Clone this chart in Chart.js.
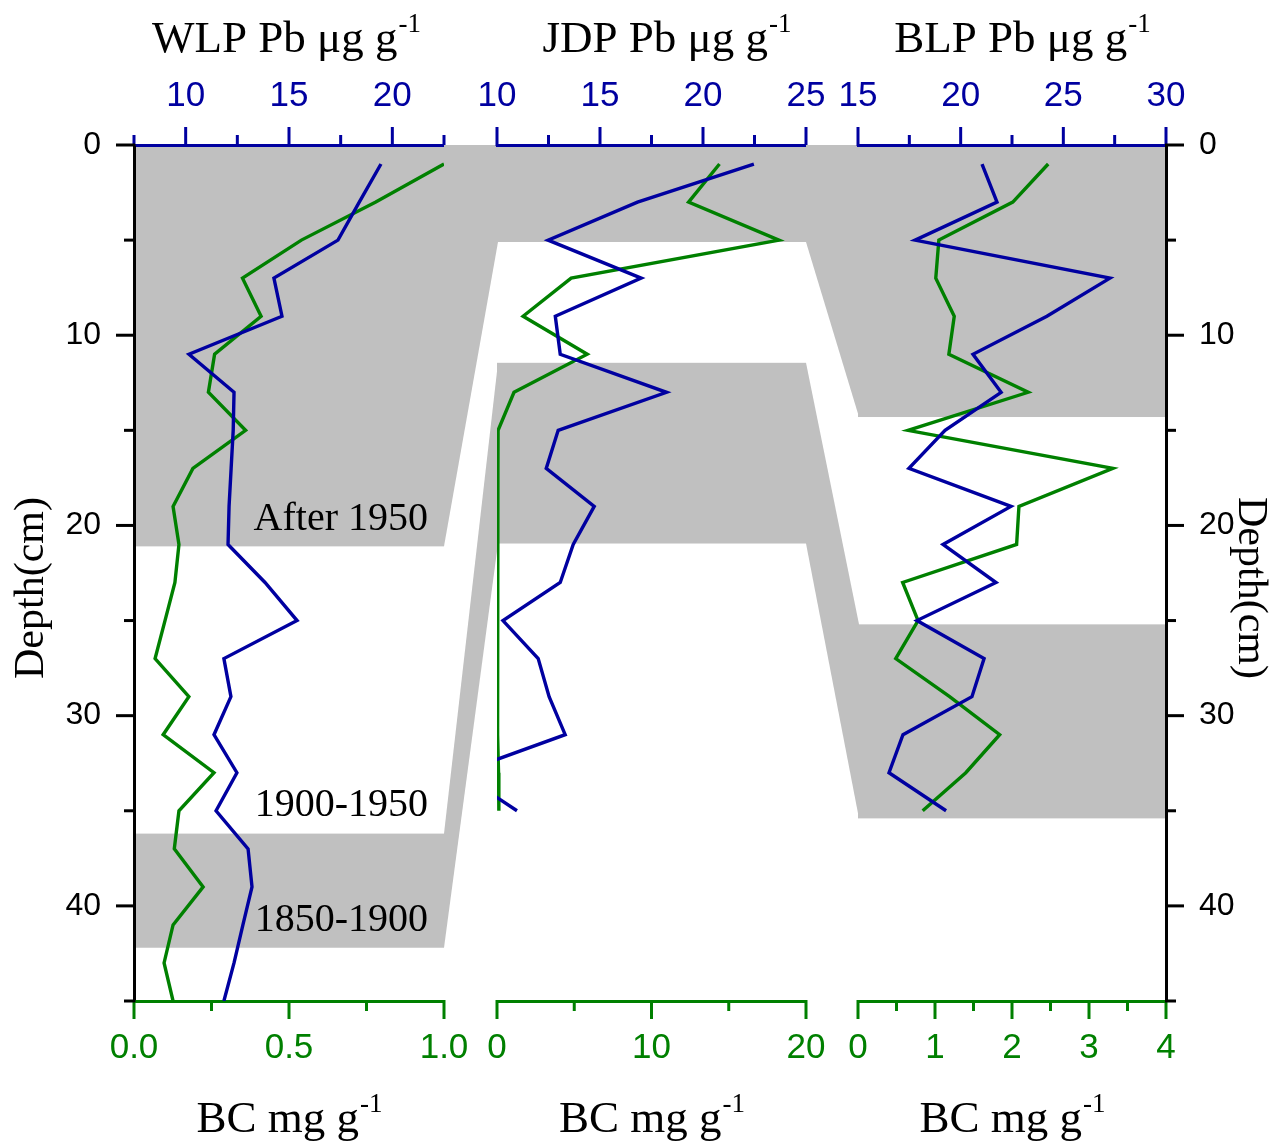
<!DOCTYPE html>
<html lang="en">
<head>
<meta charset="UTF-8">
<title>Pb and BC depth profiles</title>
<style>
  * { margin: 0; padding: 0; box-sizing: border-box; }
  html, body { width: 1275px; height: 1146px; background: #fff; overflow: hidden; }
  canvas { position: absolute; top: 0; }
</style>
<script src="https://cdn.jsdelivr.net/npm/chart.js"></script>
</head>
<body>
<canvas id="wlp" width="480" height="1146" style="left:0px"></canvas>
<canvas id="jdp" width="396" height="1146" style="left:444px"></canvas>
<canvas id="blp" width="469" height="1146" style="left:806px"></canvas>

<script>
const BLUE = '#0000A0';
const GREEN = '#008000';
const GREY = '#C0C0C0';
const SANS = "'Liberation Sans', Arial, sans-serif";
const SERIF = "'Liberation Serif', 'Times New Roman', serif";

// sample depths (cm)
const wlpDepth = [1, 3, 5, 7, 9, 11, 13, 15, 17, 19, 21, 23, 25, 27, 29, 31, 33, 35, 37, 39, 41, 43, 45];
const jdpDepth = [1, 3, 5, 7, 9, 11, 13, 15, 17, 19, 21, 23, 25, 27, 29, 31, 33, 35];
const blpDepth = [1, 3, 5, 7, 9, 11, 13, 15, 17, 19, 21, 23, 25, 27, 29, 31, 33, 35];

// Pb, ug/g
const wlpPb = [19.45, 18.4, 17.37, 14.27, 14.66, 10.16, 12.34, 12.3, 12.2, 12.1, 12.05, 13.84,
               15.39, 11.85, 12.19, 11.37, 12.48, 11.47, 13.02, 13.21, 12.77, 12.34, 11.85];
const jdpPb = [22.47, 16.82, 12.48, 17.0, 12.83, 13.07, 18.23, 12.97, 12.39, 14.72, 13.7, 13.07,
               10.29, 12.0, 12.53, 13.31, 8.2, 10.97];
const blpPb = [21.04, 21.77, 17.78, 27.27, 24.2, 20.6, 21.97, 19.24, 17.48, 22.45, 19.14, 21.72,
               17.87, 21.14, 20.55, 17.19, 16.51, 19.29];

// BC, mg/g
const wlpBC = [1.0, 0.78, 0.54, 0.35, 0.41, 0.26, 0.24, 0.36, 0.19, 0.126, 0.145, 0.132,
               0.10, 0.068, 0.177, 0.094, 0.258, 0.145, 0.13, 0.223, 0.126, 0.097, 0.126];
const jdpBC = [14.4, 12.4, 18.25, 4.8, 1.69, 5.84, 1.1, 0.07, 0.06, 0.05, 0.04, 0.04,
               0.04, 0.04, 0.03, 0.03, 0.1, 0.12];
const blpBC = [2.47, 2.01, 1.05, 1.01, 1.25, 1.18, 2.21, 0.65, 3.31, 2.09, 2.06, 0.58,
               0.78, 0.49, 1.19, 1.84, 1.40, 0.84];

// dated layers (depth ranges, cm): [after 1950, 1850-1900]
const wlpBands = [[0, 21.1], [36.2, 42.2]];
const jdpBands = [[0, 5.1], [11.45, 20.95]];
const blpBands = [[0, 14.3], [25.2, 35.4]];
const eraLabels = ['After 1950', '1900-1950', '1850-1900'];

function near(v, step) {
  return Math.abs(v / step - Math.round(v / step)) < 1e-6;
}

function drawSup(ctx, main, sup, cx, base, size) {
  const f1 = size + 'px ' + SERIF;
  const f2 = Math.round(size * 0.6) + 'px ' + SERIF;
  ctx.font = f1;
  const w1 = ctx.measureText(main).width;
  ctx.font = f2;
  const w2 = ctx.measureText(sup).width;
  const x = cx - (w1 + w2) / 2;
  ctx.textAlign = 'left';
  ctx.textBaseline = 'alphabetic';
  ctx.fillStyle = '#000';
  ctx.font = f1;
  ctx.fillText(main, x, base);
  ctx.font = f2;
  ctx.fillText(sup, x + w1 + 1, base - size * 0.45);
}

const decor = {
  id: 'decor',
  beforeDraw(chart, args, o) {
    const { ctx, chartArea: a } = chart;
    const y = chart.scales.y;
    ctx.save();
    ctx.fillStyle = GREY;
    o.bands.forEach((b, i) => {
      const y0 = y.getPixelForValue(b[0]);
      const y1 = y.getPixelForValue(b[1]);
      ctx.fillRect(a.left, y0, a.right - a.left, y1 - y0);
      if (o.prevBands) {
        const p = o.prevBands[i];
        ctx.beginPath();
        ctx.moveTo(o.linkFrom, y.getPixelForValue(p[0]));
        ctx.lineTo(a.left + 1, y0);
        ctx.lineTo(a.left + 1, y1);
        ctx.lineTo(o.linkFrom, y.getPixelForValue(p[1]));
        ctx.closePath();
        ctx.fill();
      }
    });
    ctx.restore();
  },
  afterDraw(chart, args, o) {
    const { ctx, chartArea: a } = chart;
    const y = chart.scales.y;
    ctx.save();

    // tick marks: long for labelled ticks, short otherwise
    Object.values(chart.scales).forEach(s => {
      if (!s.options.display) return;
      ctx.strokeStyle = s.options.border.color;
      ctx.lineWidth = 3;
      s.ticks.forEach(t => {
        const len = t.label !== '' ? 18 : 10;
        const p = s.getPixelForValue(t.value);
        ctx.beginPath();
        if (s.position === 'top') { ctx.moveTo(p, s.bottom + 1); ctx.lineTo(p, s.bottom - len); }
        else if (s.position === 'bottom') { ctx.moveTo(p, s.top - 1); ctx.lineTo(p, s.top + len); }
        else if (s.position === 'left') { ctx.moveTo(s.right + 1, p); ctx.lineTo(s.right - len, p); }
        else { ctx.moveTo(s.left - 1, p); ctx.lineTo(s.left + len, p); }
        ctx.stroke();
      });
    });

    const cx = (a.left + a.right) / 2;
    drawSup(ctx, o.title, '-1', cx + o.titleShift, a.top - 93, 45);
    drawSup(ctx, 'BC mg g', '-1', cx, a.bottom + 131, 45);

    if (o.eras) {
      ctx.font = '40px ' + SERIF;
      ctx.fillStyle = '#000';
      ctx.textAlign = 'right';
      ctx.textBaseline = 'alphabetic';
      o.eras.forEach((d, i) => ctx.fillText(eraLabels[i], a.right - 16, y.getPixelForValue(d)));
    }

    if (o.depthTitle) {
      ctx.font = '42px ' + SERIF;
      ctx.fillStyle = '#000';
      ctx.textAlign = 'center';
      ctx.textBaseline = 'middle';
      ctx.translate(o.depthTitle.x, (a.top + a.bottom) / 2 + 15);
      ctx.rotate(o.depthTitle.side === 'left' ? -Math.PI / 2 : Math.PI / 2);
      ctx.fillText('Depth(cm)', 0, 0);
    }
    ctx.restore();
  }
};

function xScale(pos, color, min, max, step, labelStep, fmt) {
  return {
    type: 'linear',
    position: pos,
    min: min,
    max: max,
    grid: { display: false, drawTicks: false },
    border: { display: true, color: color, width: 3 },
    ticks: {
      stepSize: step,
      autoSkip: false,
      maxRotation: 0,
      color: color,
      padding: pos === 'top' ? 28 : 26,
      font: { family: SANS, size: 35 },
      callback: v => near(v, labelStep) ? fmt(v) : ''
    },
    afterFit: s => {
      s.height = 145;
      s.paddingLeft = 0;
      s.paddingRight = 0;
    }
  };
}

function yScale(side) {
  return {
    type: 'linear',
    reverse: true,
    min: 0,
    max: 45,
    display: side !== null,
    position: side || 'left',
    grid: { display: false, drawTicks: false },
    border: { display: true, color: '#000', width: 3 },
    ticks: {
      stepSize: 5,
      autoSkip: false,
      color: '#000',
      padding: 33,
      font: { family: SANS, size: 32 },
      callback: v => near(v, 10) ? String(v) : ''
    },
    afterFit: s => {
      if (side === null) return;
      s.width = side === 'left' ? 134 : 109;
      s.paddingTop = 0;
      s.paddingBottom = 0;
    }
  };
}

function makePanel(id, depth, pb, bc, pbAxis, bcAxis, side, pad, decorOpts) {
  return new Chart(document.getElementById(id), {
    type: 'line',
    data: {
      datasets: [
        {
          label: 'Pb',
          data: pb.map((v, i) => ({ x: v, y: depth[i] })),
          xAxisID: 'xPb',
          yAxisID: 'y',
          borderColor: BLUE,
          borderWidth: 3.4,
          pointRadius: 0,
          tension: 0,
          fill: false
        },
        {
          label: 'BC',
          data: bc.map((v, i) => ({ x: v, y: depth[i] })),
          xAxisID: 'xBC',
          yAxisID: 'y',
          borderColor: GREEN,
          borderWidth: 3.4,
          pointRadius: 0,
          tension: 0,
          fill: false
        }
      ]
    },
    options: {
      indexAxis: 'y',
      responsive: false,
      animation: false,
      events: [],
      layout: { padding: pad },
      plugins: {
        legend: { display: false },
        tooltip: { enabled: false },
        decor: decorOpts
      },
      scales: {
        xPb: xScale('top', BLUE, pbAxis[0], pbAxis[1], 2.5, 5, v => String(v)),
        xBC: xScale('bottom', GREEN, bcAxis[0], bcAxis[1], bcAxis[2], bcAxis[3], bcAxis[4]),
        y: yScale(side)
      }
    },
    plugins: [decor]
  });
}

makePanel('wlp', wlpDepth, wlpPb, wlpBC, [7.5, 22.5], [0, 1, 0.25, 0.5, v => v.toFixed(1)], 'left',
  { left: 0, right: 36, top: 0, bottom: 0 },
  { bands: wlpBands, prevBands: null, title: 'WLP Pb \u03bcg g', titleShift: -3,
    eras: [20.25, 35.3, 41.3], depthTitle: { side: 'left', x: 32 } });

makePanel('jdp', jdpDepth, jdpPb, jdpBC, [10, 25], [0, 20, 5, 10, v => String(v)], null,
  { left: 53, right: 34, top: 0, bottom: 0 },
  { bands: jdpBands, prevBands: wlpBands, linkFrom: 0, title: 'JDP Pb \u03bcg g', titleShift: 15 });

makePanel('blp', blpDepth, blpPb, blpBC, [15, 30], [0, 4, 0.5, 1, v => String(v)], 'right',
  { left: 52, right: 0, top: 0, bottom: 0 },
  { bands: blpBands, prevBands: jdpBands, linkFrom: 0, title: 'BLP Pb \u03bcg g', titleShift: 10,
    depthTitle: { side: 'right', x: 444 } });
</script>
</body>
</html>
